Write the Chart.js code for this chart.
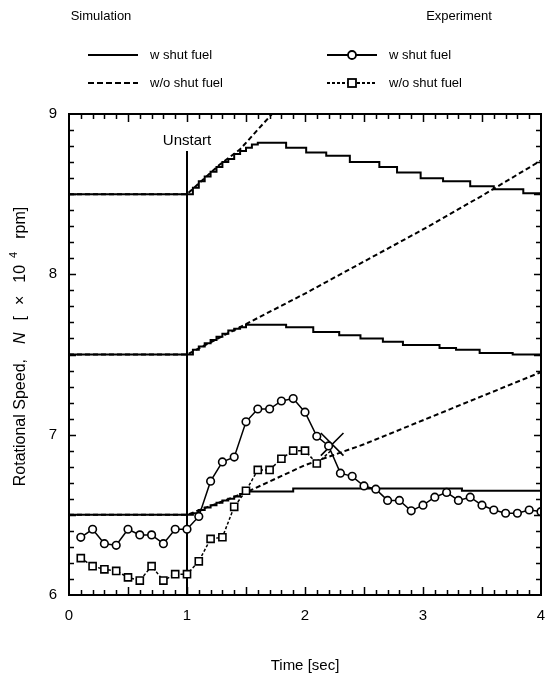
<!DOCTYPE html>
<html>
<head>
<meta charset="utf-8">
<script src="https://cdn.jsdelivr.net/npm/chart.js@4.4.1/dist/chart.umd.min.js"></script>
<style>
  html, body { margin: 0; padding: 0; background: #fff; }
  #wrap { width: 545px; height: 680px; position: relative; }
</style>
</head>
<body>
<div id="wrap"><canvas id="chart"></canvas></div>
<script>
// ---- axis ranges / tick labels ----
const xTicks = [0, 1, 2, 3, 4];
const yTicks = [6, 7, 8, 9];

// ---- simulation, with fuel shut (solid, stepped) ----
const simW85_t = [0, 1.0, 1.05, 1.1, 1.15, 1.2, 1.25, 1.3, 1.35, 1.4, 1.45, 1.5, 1.55, 1.6, 1.84, 2.01, 2.18, 2.38, 2.63, 2.78, 2.98, 3.17, 3.40, 3.60, 3.85, 4.0];
const simW85_v = [8.5, 8.5, 8.54, 8.58, 8.61, 8.64, 8.67, 8.70, 8.72, 8.75, 8.77, 8.79, 8.81, 8.82, 8.79, 8.76, 8.74, 8.70, 8.67, 8.635, 8.60, 8.58, 8.55, 8.53, 8.505, 8.505];

const simW75_t = [0, 1.0, 1.05, 1.1, 1.15, 1.2, 1.25, 1.3, 1.35, 1.4, 1.45, 1.5, 1.84, 2.07, 2.29, 2.47, 2.66, 2.83, 3.14, 3.28, 3.48, 3.76, 4.0];
const simW75_v = [7.5, 7.5, 7.53, 7.55, 7.57, 7.59, 7.61, 7.63, 7.65, 7.66, 7.67, 7.685, 7.67, 7.64, 7.62, 7.60, 7.58, 7.56, 7.54, 7.53, 7.51, 7.5, 7.5];

const simW65_t = [0, 1.0, 1.05, 1.1, 1.15, 1.2, 1.25, 1.3, 1.35, 1.4, 1.45, 1.5, 1.9, 3.33, 4.0];
const simW65_v = [6.5, 6.5, 6.51, 6.53, 6.545, 6.56, 6.575, 6.59, 6.60, 6.615, 6.63, 6.645, 6.665, 6.65, 6.65];

// ---- simulation, without fuel shut (dashed) ----
const simWo85_t = [0, 1.0, 1.27, 1.45, 1.72, 1.76];
const simWo85_v = [8.5, 8.5, 8.68, 8.78, 9.0, 9.03];

const simWo75_t = [0, 1.0, 1.5, 2.0, 2.5, 3.0, 3.5, 4.0];
const simWo75_v = [7.5, 7.5, 7.69, 7.88, 8.08, 8.28, 8.49, 8.71];

const simWo65_t = [0, 1.0, 1.5, 2.0, 2.5, 3.0, 3.5, 4.0];
const simWo65_v = [6.5, 6.5, 6.64, 6.81, 6.94, 7.09, 7.24, 7.39];

// ---- experiment, with fuel shut (circles) ----
const expW_t = [0.1, 0.2, 0.3, 0.4, 0.5, 0.6, 0.7, 0.8, 0.9, 1.0,
                1.1, 1.2, 1.3, 1.4, 1.5, 1.6, 1.7, 1.8, 1.9, 2.0,
                2.1, 2.2, 2.3, 2.4, 2.5, 2.6, 2.7, 2.8, 2.9, 3.0,
                3.1, 3.2, 3.3, 3.4, 3.5, 3.6, 3.7, 3.8, 3.9, 4.0];
const expW_v = [6.36, 6.41, 6.32, 6.31, 6.41, 6.375, 6.375, 6.32, 6.41, 6.41,
                6.49, 6.71, 6.83, 6.86, 7.08, 7.16, 7.16, 7.21, 7.225, 7.14,
                6.99, 6.93, 6.76, 6.74, 6.68, 6.66, 6.59, 6.59, 6.525, 6.56,
                6.61, 6.64, 6.59, 6.61, 6.56, 6.53, 6.51, 6.51, 6.53, 6.52];

// ---- experiment, without fuel shut (squares) ----
const expWo_t = [0.1, 0.2, 0.3, 0.4, 0.5, 0.6, 0.7, 0.8, 0.9, 1.0,
                 1.1, 1.2, 1.3, 1.4, 1.5, 1.6, 1.7, 1.8, 1.9, 2.0, 2.1, 2.22];
const expWo_v = [6.23, 6.18, 6.16, 6.15, 6.11, 6.09, 6.18, 6.09, 6.13, 6.13,
                 6.21, 6.35, 6.36, 6.55, 6.65, 6.78, 6.78, 6.85, 6.90, 6.90, 6.82, 6.90];

// ---- unstart line and cross mark ----
const unstartT = [1, 1];
const unstartV = [6, 8.77];
const crossT = [2.23];
const crossV = [6.94];

const FONT = '"Liberation Sans", Arial, Helvetica, sans-serif';
const pts = (t, v) => t.map((x, i) => ({ x: x, y: v[i] }));

Chart.defaults.font.family = FONT;
Chart.defaults.color = '#000';

// inward ticks, frame and all free text
const decorations = {
  id: 'decorations',
  afterDatasetsDraw(chart) {
    const { ctx, chartArea: a, scales: { x, y } } = chart;
    ctx.save();
    ctx.strokeStyle = '#000';
    ctx.lineWidth = 1.5;
    ctx.beginPath();
    for (let k = 1; k < 40; k++) {
      const px = Math.round(x.getPixelForValue(k / 10)) + 0.5;
      const len = k % 5 === 0 ? 8 : 5;
      ctx.moveTo(px, a.bottom); ctx.lineTo(px, a.bottom - len);
      ctx.moveTo(px, a.top); ctx.lineTo(px, a.top + len);
    }
    for (let k = 61; k < 90; k++) {
      const py = Math.round(y.getPixelForValue(k / 10)) + 0.5;
      const len = k % 5 === 0 ? 7 : 5;
      ctx.moveTo(a.left, py); ctx.lineTo(a.left + len, py);
      ctx.moveTo(a.right, py); ctx.lineTo(a.right - len, py);
    }
    ctx.stroke();
    ctx.lineWidth = 2;
    ctx.strokeRect(a.left, a.top, a.right - a.left, a.bottom - a.top);
    ctx.restore();
  },
  afterDraw(chart) {
    const { ctx, chartArea: a, scales: { x, y } } = chart;
    ctx.save();
    ctx.fillStyle = '#000';
    ctx.strokeStyle = '#000';
    ctx.textBaseline = 'middle';
    ctx.textAlign = 'center';

    // x tick labels
    ctx.font = '15px ' + FONT;
    xTicks.forEach(v => ctx.fillText(String(v), x.getPixelForValue(v), a.bottom + 21));

    // Unstart label
    ctx.fillText('Unstart', x.getPixelForValue(1), 141);

    // x title
    ctx.fillText('Time [sec]', (a.left + a.right) / 2, 666);

    // y title, rotated, with italic N and superscript, spaced like the original
    const parts = [
      { t: 'Rotational Speed,', f: '16px ' + FONT, dy: 0, gap: 15 },
      { t: 'N', f: 'italic 16px ' + FONT, dy: 0, gap: 12 },
      { t: '[', f: '16px ' + FONT, dy: 0, gap: 11 },
      { t: '\u00d7', f: '16px ' + FONT, dy: 0, gap: 13 },
      { t: '10', f: '16px ' + FONT, dy: 0, gap: 7 },
      { t: '4', f: '11px ' + FONT, dy: -7, gap: 13 },
      { t: 'rpm]', f: '16px ' + FONT, dy: 0, gap: 0 }
    ];
    let total = 0;
    parts.forEach(p => { ctx.font = p.f; p.w = ctx.measureText(p.t).width; total += p.w + p.gap; });
    ctx.translate(21, (a.top + a.bottom) / 2 - 8);
    ctx.rotate(-Math.PI / 2);
    ctx.textAlign = 'left';
    let cx = -total / 2;
    parts.forEach(p => { ctx.font = p.f; ctx.fillText(p.t, cx, p.dy); cx += p.w + p.gap; });
    ctx.setTransform(1, 0, 0, 1, 0, 0);

    // legend
    ctx.font = '13px ' + FONT;
    ctx.textAlign = 'center';
    ctx.fillText('Simulation', 101, 16);
    ctx.fillText('Experiment', 459, 16);
    ctx.textAlign = 'left';
    const rows = [55, 83];
    ctx.fillText('w shut fuel', 150, rows[0]);
    ctx.fillText('w/o shut fuel', 150, rows[1]);
    ctx.fillText('w shut fuel', 389, rows[0]);
    ctx.fillText('w/o shut fuel', 389, rows[1]);

    ctx.lineWidth = 2;
    ctx.beginPath(); ctx.moveTo(88, rows[0]); ctx.lineTo(138, rows[0]); ctx.stroke();
    ctx.setLineDash([6, 3]);
    ctx.beginPath(); ctx.moveTo(88, rows[1]); ctx.lineTo(138, rows[1]); ctx.stroke();
    ctx.setLineDash([]);

    ctx.lineWidth = 1.8;
    ctx.beginPath(); ctx.moveTo(327, rows[0]); ctx.lineTo(377, rows[0]); ctx.stroke();
    ctx.beginPath(); ctx.arc(352, rows[0], 4, 0, Math.PI * 2);
    ctx.fillStyle = '#fff'; ctx.fill(); ctx.stroke();
    ctx.setLineDash([3, 2]);
    ctx.beginPath(); ctx.moveTo(327, rows[1]); ctx.lineTo(377, rows[1]); ctx.stroke();
    ctx.setLineDash([]);
    ctx.fillRect(348, rows[1] - 4, 8, 8);
    ctx.strokeRect(348, rows[1] - 4, 8, 8);
    ctx.restore();
  }
};

const solid = (t, v) => ({
  data: pts(t, v), borderColor: '#000', borderWidth: 2, pointRadius: 0,
  stepped: true, fill: false, order: 3
});
const dashed = (t, v) => ({
  data: pts(t, v), borderColor: '#000', borderWidth: 2, pointRadius: 0,
  borderDash: [5, 3], fill: false, order: 2
});

new Chart(document.getElementById('chart'), {
  type: 'line',
  data: {
    datasets: [
      solid(simW85_t, simW85_v),
      solid(simW75_t, simW75_v),
      solid(simW65_t, simW65_v),
      dashed(simWo85_t, simWo85_v),
      dashed(simWo75_t, simWo75_v),
      dashed(simWo65_t, simWo65_v),
      {
        data: pts(unstartT, unstartV), borderColor: '#000', borderWidth: 2,
        pointRadius: 0, order: 3
      },
      {
        data: pts(expWo_t, expWo_v), borderColor: '#000', borderWidth: 1.5,
        borderDash: [3, 2], pointStyle: 'rect',
        pointRadius: expWo_t.map((t, i) => i === expWo_t.length - 1 ? 0 : 5),
        pointBorderWidth: 1.6, pointBackgroundColor: '#fff', pointBorderColor: '#000',
        order: 1
      },
      {
        data: pts(expW_t, expW_v), borderColor: '#000', borderWidth: 1.5,
        pointStyle: 'circle', pointRadius: 3.8, pointBorderWidth: 1.6,
        pointBackgroundColor: '#fff', pointBorderColor: '#000', order: 0
      },
      {
        data: pts(crossT, crossV), showLine: false, pointStyle: 'crossRot',
        pointRadius: 16, pointBorderWidth: 1.6, pointBorderColor: '#000', order: 0
      }
    ]
  },
  options: {
    responsive: true,
    maintainAspectRatio: false,
    animation: false,
    devicePixelRatio: 1,
    layout: { autoPadding: false, padding: { top: 114, right: 4, left: 0, bottom: 0 } },
    plugins: { legend: { display: false }, tooltip: { enabled: false } },
    scales: {
      x: {
        type: 'linear',
        min: xTicks[0], max: xTicks[xTicks.length - 1],
        grid: { display: false, drawTicks: false },
        border: { display: false },
        ticks: { display: false, stepSize: 1 },
        afterFit(scale) { scale.height = 85; }
      },
      y: {
        type: 'linear',
        min: yTicks[0], max: yTicks[yTicks.length - 1],
        grid: { display: false, drawTicks: false },
        border: { display: false },
        ticks: { stepSize: 1, padding: 12, font: { size: 15 }, color: '#000' },
        afterFit(scale) { scale.width = 69; }
      }
    }
  },
  plugins: [decorations]
});
</script>
</body>
</html>
